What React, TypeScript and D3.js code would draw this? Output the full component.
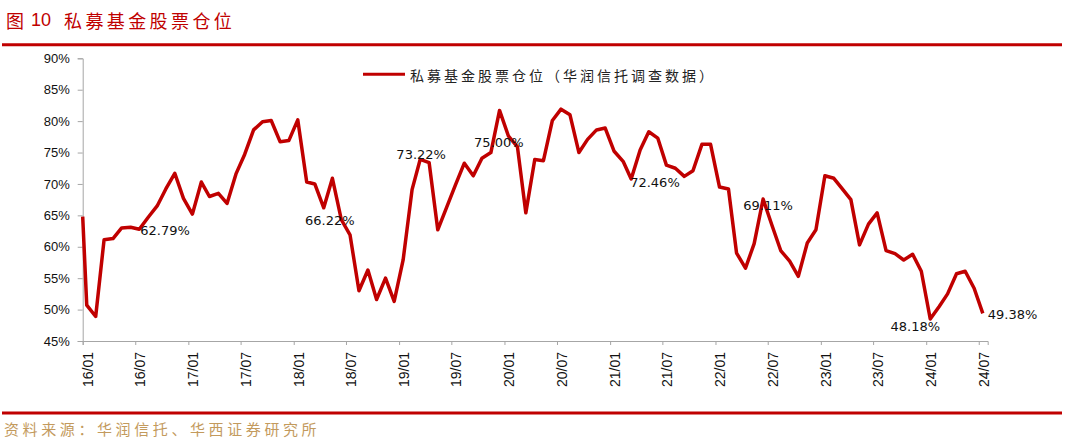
import { useEffect, useRef } from "react";
import * as d3 from "d3";

// monthly stock position of private funds, first value is 2015/12
const firstMonth = "2015-12";
const positions = [
  64.8,
  50.7, 48.9, 61.1, 61.3, 63.0, 63.1, 62.8, 64.7, 66.5, 69.2, 71.7, 67.7,
  65.2, 70.3, 68.0, 68.5, 66.9, 71.6, 74.7, 78.6, 79.9, 80.1, 76.7, 76.9,
  80.2, 70.3, 70.0, 66.2, 70.9, 64.3, 61.9, 53.0, 56.3, 51.6, 55.0, 51.3,
  57.9, 69.1, 73.9, 73.4, 62.7, 66.3, 69.8, 73.3, 71.3, 74.1, 75.0, 81.7,
  77.6, 75.9, 65.4, 73.9, 73.7, 80.1, 81.9, 81.0, 75.0, 77.1, 78.6, 78.9,
  75.2, 73.6, 70.8, 75.4, 78.3, 77.3, 73.0, 72.5, 71.2, 72.1, 76.3, 76.3,
  69.5, 69.2, 59.0, 56.6, 60.5, 67.6, 63.5, 59.4, 57.7, 55.3, 60.6, 62.7,
  71.3, 70.9, 69.3, 67.5, 60.3, 63.6, 65.4, 59.4, 58.9, 57.9, 58.8, 56.1,
  48.5, 50.5, 52.5, 55.7, 56.1, 53.4, 49.4,
];

const tickLabels = [
  "16/01", "16/07", "17/01", "17/07", "18/01", "18/07", "19/01", "19/07", "20/01",
  "20/07", "21/01", "21/07", "22/01", "22/07", "23/01", "23/07", "24/01", "24/07",
];
const yTicks = [45, 50, 55, 60, 65, 70, 75, 80, 85, 90];

const annotationMonths = ["2016-07", "2018-04", "2019-03", "2019-11", "2021-03", "2022-06", "2024-01", "2024-07"];
const annotationTexts = ["62.79%", "66.22%", "73.22%", "75.00%", "72.46%", "69.11%", "48.18%", "49.38%"];
// where each label sits relative to its point
const annotationPlacement = [
  { dx: 1, dy: 1, anchor: "start" },
  { dx: 6, dy: 13, anchor: "middle" },
  { dx: 1, dy: -5, anchor: "middle" },
  { dx: 8, dy: -10, anchor: "middle" },
  { dx: -1, dy: 4, anchor: "start" },
  { dx: 5, dy: 6, anchor: "middle" },
  { dx: -15, dy: 7, anchor: "middle" },
  { dx: 5, dy: 1, anchor: "start" },
];

const RED = "#c00000";
const CJK = "'Noto Sans CJK SC', sans-serif";

export default function App() {
  const ref = useRef<SVGSVGElement | null>(null);

  useEffect(() => {
    buildGraph();
  }, []);

  function buildGraph({
    width = 1067,
    height = 441,
    marginLeft = 82.7,
    axisRight = 987.7,
    top = 58.3,
    bottom = 341,
  } = {}) {
    const svg = d3.select(ref.current);
    svg.selectAll("*").remove();

    const parseMonth = d3.timeParse("%Y-%m");
    const parseTick = d3.timeParse("%y/%m");
    const midMonth = (m: string) => d3.timeDay.offset(parseMonth(m) as Date, 14);
    const start = parseMonth(firstMonth) as Date;
    const dates = positions.map((_, i) => d3.timeDay.offset(d3.timeMonth.offset(start, i), 14));

    const x = d3.scaleTime()
      .domain([new Date(2016, 0, 1), new Date(2024, 7, 1)])
      .range([marginLeft, axisRight])
      .clamp(true);

    const y = d3.scaleLinear().domain([45, 90]).range([bottom, top]);

    // title
    const title = svg.append("text")
      .attr("y", 20)
      .attr("dominant-baseline", "central")
      .attr("fill", RED)
      .attr("font-size", 18)
      .attr("font-family", CJK);
    title.append("tspan").attr("x", 6).text("图");
    title.append("tspan").attr("x", 31).attr("font-family", "'Liberation Sans', Arial").text("10");
    title.append("tspan").attr("x", 64).attr("letter-spacing", 3.4).text("私募基金股票仓位");

    svg.append("line")
      .attr("x1", 2).attr("x2", 1062).attr("y1", 44.7).attr("y2", 44.7)
      .attr("stroke", RED).attr("stroke-width", 3);

    svg.append("line")
      .attr("x1", 2).attr("x2", 1062).attr("y1", 413).attr("y2", 413)
      .attr("stroke", RED).attr("stroke-width", 3);

    svg.append("text")
      .attr("x", 4).attr("y", 428)
      .attr("dominant-baseline", "central")
      .attr("fill", "#c39a5d")
      .attr("font-size", 15)
      .attr("letter-spacing", 3.6)
      .attr("font-family", CJK)
      .text("资料来源：华润信托、华西证券研究所");

    // y axis
    svg.append("g")
      .attr("transform", `translate(${marginLeft},0)`)
      .call(d3.axisLeft(y).tickValues(yTicks).tickSize(5).tickPadding(8).tickFormat(d => `${d}%`))
      .call(g => g.selectAll("line,path").attr("stroke", "#a6a6a6"))
      .call(g => g.selectAll("text")
        .attr("fill", "#111")
        .attr("font-size", 13)
        .attr("font-family", "'Liberation Sans', Arial, sans-serif"));

    // x axis
    const tickDates = tickLabels.map(t => parseTick(t) as Date);
    svg.append("g")
      .attr("transform", `translate(0,${bottom})`)
      .call(d3.axisBottom(x).tickValues(tickDates).tickSize(4).tickFormat(() => ""))
      .call(g => g.selectAll("line,path").attr("stroke", "#a6a6a6"));

    svg.append("g")
      .selectAll("text")
      .data(tickLabels)
      .join("text")
      .attr("transform", (d, i) => `translate(${x(tickDates[i]) + 5},${bottom + 11}) rotate(-90)`)
      .attr("text-anchor", "end")
      .attr("dominant-baseline", "central")
      .attr("fill", "#111")
      .attr("font-size", 14)
      .attr("font-family", "'Liberation Sans', Arial, sans-serif")
      .text(d => d);

    // series line
    const line = d3.line<number>()
      .x((_, i) => x(dates[i]))
      .y(d => y(d));

    svg.append("path")
      .datum(positions)
      .attr("fill", "none")
      .attr("stroke", RED)
      .attr("stroke-width", 3.5)
      .attr("stroke-linejoin", "round")
      .attr("d", line);

    // value labels
    svg.append("g")
      .selectAll("text")
      .data(annotationMonths)
      .join("text")
      .attr("x", (m, i) => x(midMonth(m)) + annotationPlacement[i].dx)
      .attr("y", (m, i) => {
        const idx = d3.timeMonth.count(start, parseMonth(m) as Date);
        return y(positions[idx]) + annotationPlacement[i].dy;
      })
      .attr("text-anchor", (_, i) => annotationPlacement[i].anchor)
      .attr("dominant-baseline", "central")
      .attr("fill", "#111")
      .attr("font-size", 13)
      .attr("font-family", "'DejaVu Sans', sans-serif")
      .text((_, i) => annotationTexts[i]);

    // legend
    svg.append("line")
      .attr("x1", 363).attr("x2", 405).attr("y1", 74.3).attr("y2", 74.3)
      .attr("stroke", RED).attr("stroke-width", 3);
    svg.append("text")
      .attr("x", 410).attr("y", 75)
      .attr("dominant-baseline", "central")
      .attr("fill", "#222")
      .attr("font-size", 14)
      .attr("letter-spacing", 3)
      .attr("font-family", CJK)
      .text("私募基金股票仓位（华润信托调查数据）");

    svg.attr("width", width).attr("height", height);
  }

  return (
    <svg
      ref={ref}
      width={1067}
      height={441}
      style={{ position: "absolute", left: 0, top: 0, background: "#fff" }}
    />
  );
}
